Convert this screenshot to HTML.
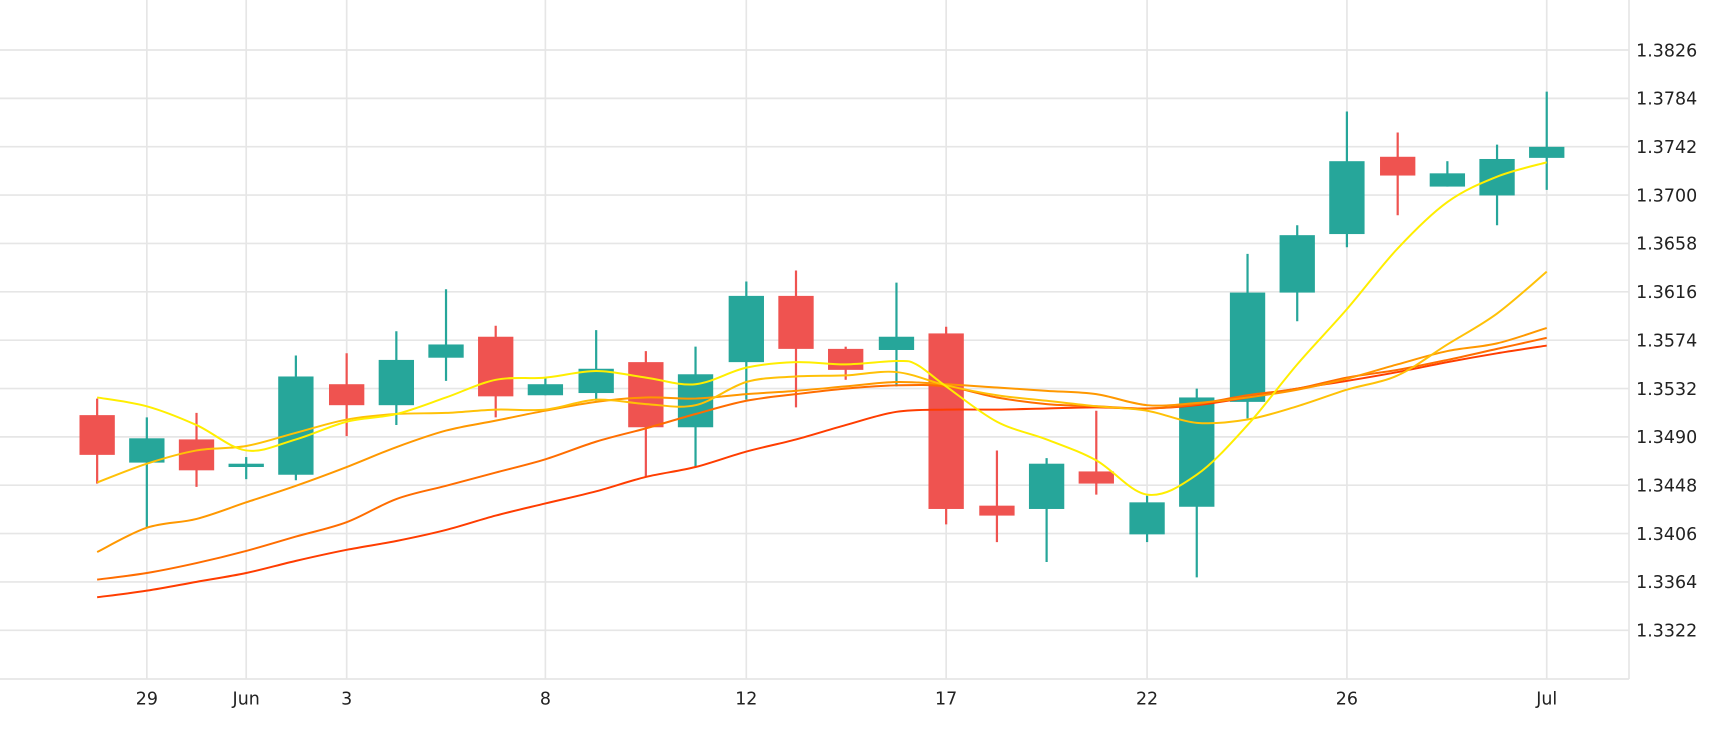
<!DOCTYPE html>
<html><head><meta charset="utf-8"><style>html,body{margin:0;padding:0;background:#fff}svg{display:block}</style></head><body>
<svg id="s" width="1730" height="730" viewBox="0 0 1567 661.2" preserveAspectRatio="none" xmlns="http://www.w3.org/2000/svg" font-family="DejaVu Sans, sans-serif">
<g stroke="#e6e6e6" stroke-width="1.5">
<line x1="0" x2="1475.5" y1="45.3" y2="45.3"/><line x1="0" x2="1475.5" y1="89.1" y2="89.1"/><line x1="0" x2="1475.5" y1="132.9" y2="132.9"/><line x1="0" x2="1475.5" y1="176.7" y2="176.7"/><line x1="0" x2="1475.5" y1="220.5" y2="220.5"/><line x1="0" x2="1475.5" y1="264.3" y2="264.3"/><line x1="0" x2="1475.5" y1="308.1" y2="308.1"/><line x1="0" x2="1475.5" y1="351.9" y2="351.9"/><line x1="0" x2="1475.5" y1="395.7" y2="395.7"/><line x1="0" x2="1475.5" y1="439.5" y2="439.5"/><line x1="0" x2="1475.5" y1="483.3" y2="483.3"/><line x1="0" x2="1475.5" y1="527.1" y2="527.1"/><line x1="0" x2="1475.5" y1="570.9" y2="570.9"/>
<line x1="0" x2="1475.5" y1="615" y2="615"/>
<line x1="1475.5" x2="1475.5" y1="0" y2="615"/>
<line x1="133" x2="133" y1="0" y2="615"/><line x1="223" x2="223" y1="0" y2="615"/><line x1="314" x2="314" y1="0" y2="615"/><line x1="494" x2="494" y1="0" y2="615"/><line x1="676" x2="676" y1="0" y2="615"/><line x1="857" x2="857" y1="0" y2="615"/><line x1="1039" x2="1039" y1="0" y2="615"/><line x1="1220" x2="1220" y1="0" y2="615"/><line x1="1401" x2="1401" y1="0" y2="615"/>
</g>
<g font-size="15.8" fill="#222">
<text x="1482" y="51">1.3826</text><text x="1482" y="94.8">1.3784</text><text x="1482" y="138.6">1.3742</text><text x="1482" y="182.4">1.3700</text><text x="1482" y="226.2">1.3658</text><text x="1482" y="270">1.3616</text><text x="1482" y="313.8">1.3574</text><text x="1482" y="357.6">1.3532</text><text x="1482" y="401.4">1.3490</text><text x="1482" y="445.2">1.3448</text><text x="1482" y="489">1.3406</text><text x="1482" y="532.8">1.3364</text><text x="1482" y="576.6">1.3322</text>
</g>
<g font-size="15.8" fill="#222" text-anchor="middle">
<text x="133" y="638">29</text><text x="223" y="638">Jun</text><text x="314" y="638">3</text><text x="494" y="638">8</text><text x="676" y="638">12</text><text x="857" y="638">17</text><text x="1039" y="638">22</text><text x="1220" y="638">26</text><text x="1401" y="638">Jul</text>
</g>
<g stroke-width="2">
<g fill="#ef5350" stroke="#ef5350">
<line x1="88" x2="88" y1="361" y2="438"/><rect x="72" y="376" width="32" height="36" stroke="none"/>
<line x1="178" x2="178" y1="374" y2="441"/><rect x="162" y="398" width="32" height="28" stroke="none"/>
<line x1="314" x2="314" y1="320" y2="395"/><rect x="298" y="348" width="32" height="19" stroke="none"/>
<line x1="449" x2="449" y1="295" y2="378"/><rect x="433" y="305" width="32" height="54" stroke="none"/>
<line x1="585" x2="585" y1="318" y2="432"/><rect x="569" y="328" width="32" height="59" stroke="none"/>
<line x1="721" x2="721" y1="245" y2="369"/><rect x="705" y="268" width="32" height="48" stroke="none"/>
<line x1="766" x2="766" y1="314" y2="344"/><rect x="750" y="316" width="32" height="19" stroke="none"/>
<line x1="857" x2="857" y1="296" y2="475"/><rect x="841" y="302" width="32" height="159" stroke="none"/>
<line x1="903" x2="903" y1="408" y2="491"/><rect x="887" y="458" width="32" height="9" stroke="none"/>
<line x1="993" x2="993" y1="372" y2="448"/><rect x="977" y="427" width="32" height="11" stroke="none"/>
<line x1="1266" x2="1266" y1="120" y2="195"/><rect x="1250" y="142" width="32" height="17" stroke="none"/>
</g>
<g fill="#26a69a" stroke="#26a69a">
<line x1="133" x2="133" y1="378" y2="478"/><rect x="117" y="397" width="32" height="22" stroke="none"/>
<line x1="223" x2="223" y1="414" y2="434"/><rect x="207" y="420" width="32" height="3" stroke="none"/>
<line x1="268" x2="268" y1="322" y2="435"/><rect x="252" y="341" width="32" height="89" stroke="none"/>
<line x1="359" x2="359" y1="300" y2="385"/><rect x="343" y="326" width="32" height="41" stroke="none"/>
<line x1="404" x2="404" y1="262" y2="345"/><rect x="388" y="312" width="32" height="12" stroke="none"/>
<line x1="494" x2="494" y1="342" y2="358"/><rect x="478" y="348" width="32" height="10" stroke="none"/>
<line x1="540" x2="540" y1="299" y2="363"/><rect x="524" y="334" width="32" height="22" stroke="none"/>
<line x1="630" x2="630" y1="314" y2="423"/><rect x="614" y="339" width="32" height="48" stroke="none"/>
<line x1="676" x2="676" y1="255" y2="362"/><rect x="660" y="268" width="32" height="60" stroke="none"/>
<line x1="812" x2="812" y1="256" y2="350"/><rect x="796" y="305" width="32" height="12" stroke="none"/>
<line x1="948" x2="948" y1="415" y2="509"/><rect x="932" y="420" width="32" height="41" stroke="none"/>
<line x1="1039" x2="1039" y1="449" y2="491"/><rect x="1023" y="455" width="32" height="29" stroke="none"/>
<line x1="1084" x2="1084" y1="352" y2="523"/><rect x="1068" y="360" width="32" height="99" stroke="none"/>
<line x1="1130" x2="1130" y1="230" y2="379"/><rect x="1114" y="265" width="32" height="99" stroke="none"/>
<line x1="1175" x2="1175" y1="204" y2="291"/><rect x="1159" y="213" width="32" height="52" stroke="none"/>
<line x1="1220" x2="1220" y1="101" y2="224"/><rect x="1204" y="146" width="32" height="66" stroke="none"/>
<line x1="1311" x2="1311" y1="146" y2="169"/><rect x="1295" y="157" width="32" height="12" stroke="none"/>
<line x1="1356" x2="1356" y1="131" y2="204"/><rect x="1340" y="144" width="32" height="33" stroke="none"/>
<line x1="1401" x2="1401" y1="83" y2="172"/><rect x="1385" y="133" width="32" height="10" stroke="none"/>
</g>
</g>
<g id="ma" fill="none" stroke-width="1.8" stroke-linejoin="round">
<polyline stroke="#ff3d00" points="88,541 133,535 178,527 223,519 268,508 314,498 359,490 404,480 449,467 494,456 540,445 585,432 630,423 676,409 721,398 766,385 812,373 857,371 903,371 948,370 993,369 1039,370 1084,367 1130,360 1175,352 1220,345 1266,337 1311,328 1356,320 1401,313"/>
<polyline stroke="#ff6d00" points="88,525 133,519 178,510 223,499 268,486 314,473 359,452 404,440 449,428 494,416 540,400 585,388 630,375 676,363 721,357 766,352 812,349 857,350 903,360 948,366 993,368 1039,370 1084,366 1130,358 1175,352 1220,342 1266,335 1311,326 1356,316 1401,306"/>
<polyline stroke="#ff9800" points="88,500 133,478 178,470 223,455 268,440 314,423 359,405 404,390 449,381 494,372 540,364 585,360 630,361 676,357 721,354 766,350 812,346 857,348 903,351 948,354 993,357 1039,367 1084,365 1130,360 1175,353 1220,343 1266,330 1311,318 1356,311 1401,297"/>
<polyline stroke="#ffc107" points="88,437 133,420 178,408 223,404 268,392 314,380 359,375 404,374 449,371 494,371 540,362 585,366 630,367 676,346 721,341 766,340 812,337 857,349 903,358 948,363 993,368 1039,372 1084,383 1130,380 1175,368 1220,353 1266,340 1311,312 1356,284 1401,246"/>
<polyline stroke="#ffee00" points="88,360 133,368 178,385 223,408 268,398 314,382 359,375 404,360 449,344 494,342 540,336 585,342 630,348 676,333 721,328 766,330 812,327 830,330 857,350 903,382 948,398 993,417 1039,448 1084,430 1130,385 1175,330 1220,280 1266,225 1311,183 1356,160 1401,147"/>
</g>
</svg>
<script>
(function(){
var pls=document.querySelectorAll('#ma polyline');
pls.forEach(function(pl){
var p=pl.getAttribute('points').trim().split(/\s+/).map(function(s){return s.split(',').map(Number);});
var d='M'+p[0][0]+','+p[0][1];
for(var i=0;i<p.length-1;i++){
var p0=p[i-1]||p[i],p1=p[i],p2=p[i+1],p3=p[i+2]||p2;
var c1x=p1[0]+(p2[0]-p0[0])/6,c1y=p1[1]+(p2[1]-p0[1])/6;
var c2x=p2[0]-(p3[0]-p1[0])/6,c2y=p2[1]-(p3[1]-p1[1])/6;
d+=' C'+c1x+','+c1y+' '+c2x+','+c2y+' '+p2[0]+','+p2[1];
}
var path=document.createElementNS('http://www.w3.org/2000/svg','path');
path.setAttribute('d',d);path.setAttribute('stroke',pl.getAttribute('stroke'));
pl.parentNode.replaceChild(path,pl);
});
})();
</script>
</body></html>
